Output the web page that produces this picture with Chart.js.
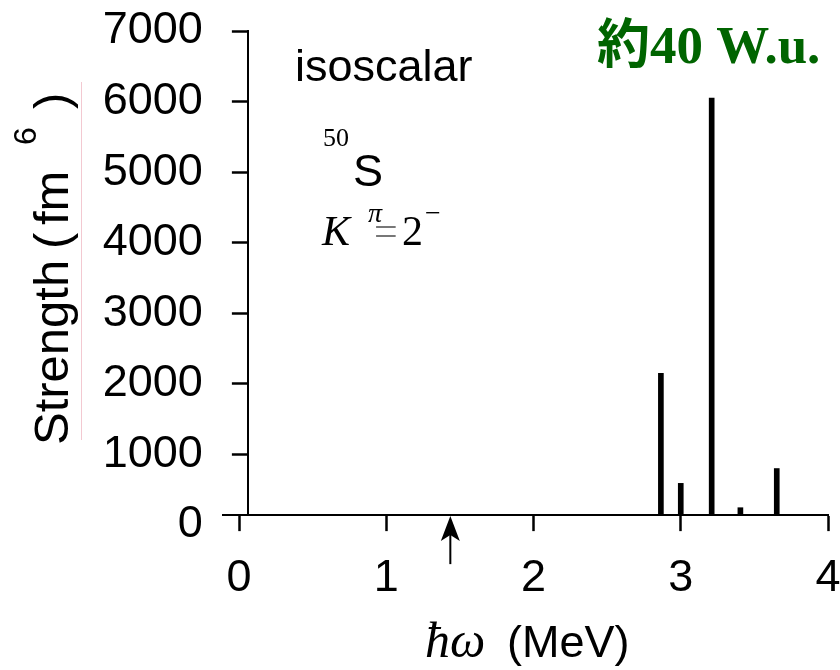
<!DOCTYPE html>
<html>
<head>
<meta charset="utf-8">
<script src="https://cdn.jsdelivr.net/npm/chart.js@4.4.1/dist/chart.umd.min.js"></script>
<style>
  html, body { margin: 0; padding: 0; background: #fff; }
  #wrap { width: 840px; height: 670px; }
</style>
</head>
<body>
<div id="wrap"><canvas id="strengthChart" width="840" height="670"></canvas></div>
<script>
// excitation energies (MeV) and strengths (fm^6) of the K^pi = 2^- states
const energies = [2.865, 3.0, 3.21, 3.405, 3.652];
const strengths = [2150, 590, 6050, 245, 800];
// threshold marked with an arrow on the energy axis
const thresholdEnergy = [1.435];
const xTicks = [0, 1, 2, 3, 4];
const yTicks = [0, 1000, 2000, 3000, 4000, 5000, 6000, 7000];

const Y_AXIS_AT = 0.06;   // energy where the strength axis is drawn
const X_AXIS_AT = 140;    // strength where the energy axis is drawn

Chart.defaults.font.family = "'Liberation Sans', Arial, sans-serif";
Chart.defaults.color = '#000';

// move the two axes to where they cross instead of the chart edges
const axisCross = {
  id: 'axisCross',
  afterLayout(chart) {
    const {x, y} = chart.scales;
    const xp = x.getPixelForValue(Y_AXIS_AT);
    const yp = y.getPixelForValue(X_AXIS_AT);
    const w = y.right - y.left;
    y.left = xp - w;
    y.right = xp;
    y.bottom = yp;
    const h = x.bottom - x.top;
    x.top = yp;
    x.bottom = yp + h;
  }
};

const annotations = {
  id: 'annotations',
  afterDraw(chart) {
    const ctx = chart.ctx;
    const x = chart.scales.x;
    ctx.save();
    ctx.fillStyle = '#000';
    ctx.strokeStyle = '#000';
    ctx.textAlign = 'left';
    ctx.textBaseline = 'alphabetic';

    // thin line next to the axis title
    ctx.save();
    ctx.strokeStyle = 'rgba(235,165,178,0.6)';
    ctx.lineWidth = 1;
    ctx.beginPath();
    ctx.moveTo(81.5, 82);
    ctx.lineTo(81.5, 440);
    ctx.stroke();
    ctx.restore();

    // strength axis title, read bottom to top
    ctx.save();
    ctx.translate(68, 445);
    ctx.rotate(-Math.PI / 2);
    ctx.font = "49px 'Liberation Sans'";
    ctx.fillText('Strength', 0, 0);
    ctx.fillText('(', 196, 0);
    ctx.fillText('fm', 220, 0);
    ctx.fillText(')', 336, 0);
    ctx.font = "32px 'Liberation Sans'";
    ctx.fillText('6', 300, -32);
    ctx.restore();

    // energy axis title
    ctx.font = "italic 50px 'Liberation Serif'";
    ctx.fillText('\u0127\u03c9', 425, 657);
    ctx.font = "45px 'Liberation Sans'";
    ctx.fillText('(MeV)', 507, 657);

    // labels in the plot
    ctx.font = "45px 'Liberation Sans'";
    ctx.fillText('isoscalar', 295, 81);
    ctx.font = "26px 'Liberation Serif'";
    ctx.fillText('50', 323, 146);
    ctx.font = "45px 'Liberation Sans'";
    ctx.fillText('S', 353, 186);

    ctx.font = "italic 42px 'Liberation Serif'";
    ctx.fillText('K', 322, 245);
    ctx.font = "italic 28px 'Liberation Serif'";
    ctx.fillText('\u03c0', 368, 222);
    ctx.fillStyle = '#777';
    ctx.font = "42px 'Liberation Serif'";
    ctx.fillText('=', 374, 245);
    ctx.fillStyle = '#000';
    ctx.fillText('2', 402, 245);
    ctx.font = "28px 'Liberation Serif'";
    ctx.fillText('\u2212', 425, 222);

    ctx.fillStyle = '#006400';
    ctx.font = "bold 53px 'Liberation Serif', 'Noto Sans CJK JP'";
    ctx.fillText('約40 W.u.', 597, 63);

    // threshold arrow pointing at the energy axis
    ctx.fillStyle = '#000';
    const ax = x.getPixelForValue(thresholdEnergy[0]);
    const tip = x.top + 1;
    ctx.lineWidth = 2;
    ctx.beginPath();
    ctx.moveTo(ax, tip + 18);
    ctx.lineTo(ax, tip + 48);
    ctx.stroke();
    ctx.beginPath();
    ctx.moveTo(ax, tip);
    ctx.lineTo(ax - 9.5, tip + 25);
    ctx.lineTo(ax, tip + 19);
    ctx.lineTo(ax + 9.5, tip + 25);
    ctx.closePath();
    ctx.fill();

    ctx.restore();
  }
};

const points = energies.map((e, i) => ({x: e, y: strengths[i]}));

new Chart(document.getElementById('strengthChart'), {
  type: 'bar',
  data: {
    datasets: [{
      data: points,
      backgroundColor: '#000',
      borderWidth: 0,
      barThickness: 5,
      base: X_AXIS_AT
    }]
  },
  options: {
    responsive: false,
    animation: false,
    devicePixelRatio: 1,
    layout: { padding: { top: 31, right: 12, bottom: 0, left: 0 } },
    plugins: { legend: { display: false }, tooltip: { enabled: false } },
    scales: {
      x: {
        type: 'linear',
        offset: false,
        min: -0.109,
        max: 4,
        afterBuildTicks: s => { s.ticks = xTicks.map(v => ({value: v})); },
        afterFit: s => { s.height = 145; s.paddingLeft = 0; s.paddingRight = 0; },
        grid: { offset: false, drawOnChartArea: false, tickLength: 16, tickWidth: 2.5, tickColor: '#000' },
        border: { color: '#000', width: 2 },
        ticks: { padding: 20, autoSkip: false, maxRotation: 0, font: { size: 45 }, callback: v => String(v) }
      },
      y: {
        min: 0,
        max: 7000,
        afterBuildTicks: s => { s.ticks = yTicks.map(v => ({value: v})); },
        afterFit: s => { s.width = 223; s.paddingTop = 0; s.paddingBottom = 0; },
        grid: {
          drawOnChartArea: false,
          tickLength: 16,
          tickWidth: 2.5,
          tickColor: c => (c.tick && c.tick.value === 0 ? 'rgba(0,0,0,0)' : '#000')
        },
        border: { color: '#000', width: 2 },
        ticks: { padding: 29, autoSkip: false, font: { size: 45 }, callback: v => String(v) }
      }
    }
  },
  plugins: [axisCross, annotations]
});
</script>
</body>
</html>
